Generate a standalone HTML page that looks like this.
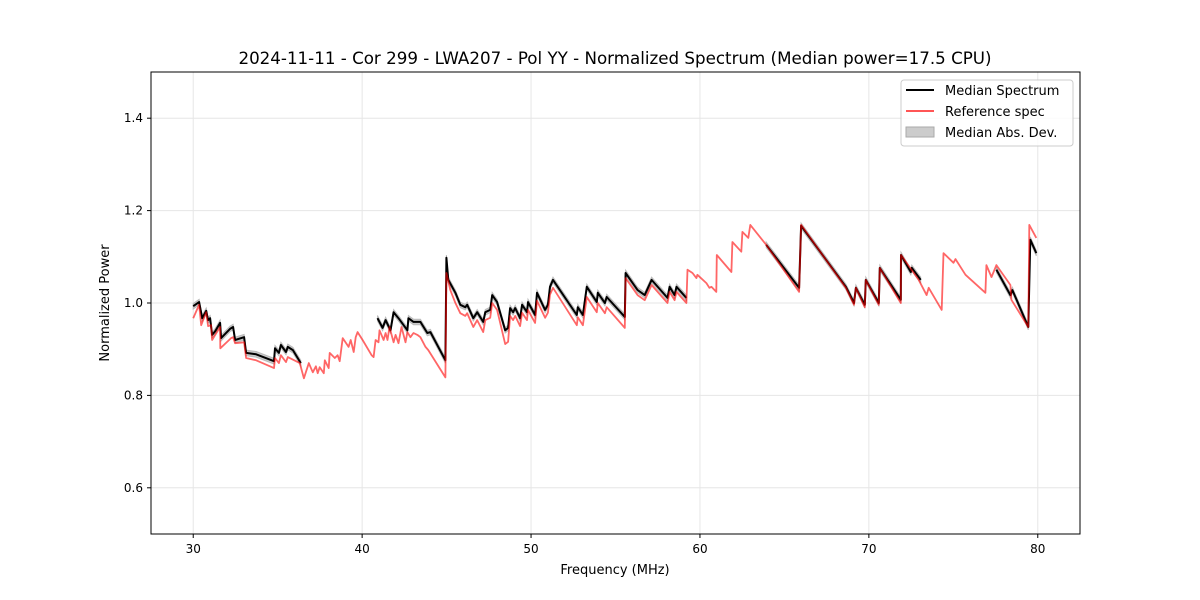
<!DOCTYPE html>
<html><head><meta charset="utf-8"><style>
body{margin:0;background:#fff}
svg{display:block;font-family:"DejaVu Sans","Liberation Sans",sans-serif}
</style></head><body>
<svg id="chart" width="1200" height="600" viewBox="0 0 1200 600" xmlns="http://www.w3.org/2000/svg">
<rect width="1200" height="600" fill="#fff"/>
<text x="615" y="64" font-size="16.7" text-anchor="middle">2024-11-11 - Cor 299 - LWA207 - Pol YY - Normalized Spectrum (Median power=17.5 CPU)</text>
<g id="grid"></g>
<g id="series"></g>
<rect x="151" y="72" width="929" height="462" fill="none" stroke="#000" stroke-width="1"/>
<g id="ticks"></g>
<text x="615" y="574" font-size="13" text-anchor="middle">Frequency (MHz)</text>
<text x="109" y="303" font-size="13" text-anchor="middle" transform="rotate(-90 109 303)">Normalized Power</text>
<g>
<rect x="901" y="80" width="172" height="66" rx="3" fill="#fff" fill-opacity="0.8" stroke="#ccc"/>
<line x1="906" y1="90" x2="934" y2="90" stroke="#000" stroke-width="2"/>
<text x="945" y="95" font-size="13">Median Spectrum</text>
<line x1="906" y1="111" x2="934" y2="111" stroke="#ff5555" stroke-width="2"/>
<text x="945" y="116" font-size="13">Reference spec</text>
<rect x="906" y="127" width="28" height="10" fill="#ccc" stroke="#aaa"/>
<text x="945" y="137" font-size="13">Median Abs. Dev.</text>
</g>
</svg>
<script>
const xTicks=[30,40,50,60,70,80];
const yTicks=[0.6,0.8,1.0,1.2,1.4];
const xTickLabels=["30","40","50","60","70","80"];
const yTickLabels=["0.6","0.8","1.0","1.2","1.4"];
const medianSegments=[
[[30.00,0.993],[30.35,1.002],[30.53,0.967],[30.77,0.983],[30.88,0.963],[31.00,0.967],[31.12,0.931],[31.30,0.939],[31.59,0.957],[31.65,0.924],[32.18,0.944],[32.36,0.948],[32.48,0.920],[33.01,0.926],[33.13,0.892],[33.72,0.889],[34.78,0.874],[34.84,0.902],[35.07,0.892],[35.19,0.909],[35.49,0.894],[35.60,0.905],[35.90,0.898],[36.37,0.870]],
[[40.91,0.967],[41.21,0.946],[41.39,0.963],[41.68,0.941],[41.86,0.980],[42.15,0.967],[42.68,0.941],[42.74,0.967],[43.04,0.959],[43.45,0.959],[43.86,0.935],[44.04,0.937],[44.93,0.876],[44.99,1.098],[45.10,1.050],[45.52,1.022],[45.81,0.996],[46.11,0.991],[46.22,0.996],[46.58,0.967],[46.81,0.980],[47.17,0.959],[47.29,0.980],[47.58,0.985],[47.70,1.017],[47.99,1.002],[48.47,0.941],[48.64,0.946],[48.76,0.989],[48.94,0.980],[49.06,0.989],[49.35,0.967],[49.47,0.996],[49.76,0.980],[49.82,1.002],[50.24,0.974],[50.35,1.022],[50.83,0.985],[51.00,0.996],[51.12,1.035],[51.30,1.050],[52.71,0.974],[52.77,0.991],[53.07,0.974],[53.30,1.035],[53.89,1.002],[53.95,1.022],[54.37,1.000],[54.48,1.013],[55.55,0.970],[55.60,1.065],[56.31,1.028],[56.73,1.017],[57.14,1.050],[58.08,1.011],[58.20,1.035],[58.50,1.017],[58.61,1.035],[59.20,1.011]],
[[63.92,1.126],[65.87,1.033],[65.99,1.167],[68.64,1.035],[69.12,1.000],[69.23,1.033],[69.76,0.996],[69.82,1.050],[70.59,1.000],[70.65,1.076],[71.89,1.007],[71.90,1.104],[72.48,1.067],[72.54,1.076],[73.07,1.050]],
[[77.55,1.072],[78.38,1.017],[78.50,1.028],[79.44,0.948],[79.56,1.137],[79.91,1.108]]
];
const referenceSeries=[[30.00,0.967],[30.35,0.996],[30.47,0.952],[30.77,0.980],[30.88,0.950],[31.06,0.952],[31.12,0.920],[31.30,0.931],[31.59,0.948],[31.60,0.902],[32.24,0.924],[32.36,0.926],[32.48,0.913],[33.01,0.915],[33.13,0.881],[33.72,0.876],[34.78,0.859],[34.84,0.881],[35.07,0.870],[35.19,0.887],[35.49,0.872],[35.60,0.883],[36.31,0.870],[36.55,0.837],[36.84,0.870],[37.08,0.850],[37.26,0.863],[37.37,0.848],[37.49,0.861],[37.73,0.848],[37.79,0.876],[38.02,0.859],[38.08,0.892],[38.38,0.881],[38.55,0.887],[38.67,0.874],[38.85,0.924],[39.20,0.905],[39.32,0.920],[39.50,0.894],[39.62,0.926],[39.73,0.937],[40.03,0.920],[40.56,0.887],[40.68,0.883],[40.80,0.920],[40.97,0.915],[41.03,0.941],[41.27,0.920],[41.39,0.935],[41.50,0.920],[41.62,0.948],[41.86,0.915],[41.98,0.931],[42.15,0.913],[42.33,0.948],[42.57,0.915],[42.68,0.937],[42.86,0.926],[43.04,0.935],[43.27,0.931],[43.45,0.926],[43.75,0.905],[43.92,0.898],[44.93,0.839],[44.99,1.065],[45.22,1.028],[45.52,1.000],[45.81,0.978],[46.11,0.972],[46.22,0.978],[46.58,0.948],[46.81,0.963],[47.17,0.937],[47.29,0.963],[47.58,0.968],[47.70,1.000],[47.99,0.985],[48.47,0.911],[48.64,0.916],[48.76,0.972],[48.94,0.963],[49.06,0.972],[49.35,0.950],[49.47,0.979],[49.76,0.963],[49.82,0.985],[50.24,0.957],[50.35,1.005],[50.83,0.968],[51.00,0.979],[51.12,1.018],[51.30,1.033],[52.71,0.952],[52.77,0.969],[53.07,0.952],[53.30,1.013],[53.89,0.980],[53.95,1.000],[54.37,0.978],[54.48,0.991],[55.55,0.946],[55.60,1.054],[56.31,1.017],[56.73,1.006],[57.14,1.039],[58.08,1.000],[58.20,1.024],[58.50,1.006],[58.61,1.024],[59.20,1.000],[59.26,1.072],[59.56,1.065],[59.79,1.054],[59.85,1.061],[60.38,1.043],[60.56,1.033],[60.68,1.035],[60.97,1.024],[61.00,1.104],[61.86,1.067],[61.92,1.132],[62.45,1.111],[62.51,1.154],[62.86,1.141],[62.98,1.169],[63.92,1.126],[65.87,1.024],[65.99,1.169],[68.64,1.033],[69.12,0.996],[69.23,1.033],[69.76,0.991],[69.82,1.050],[70.59,0.996],[70.65,1.076],[71.89,1.000],[71.90,1.104],[72.95,1.050],[73.42,1.017],[73.54,1.033],[74.31,0.985],[74.42,1.108],[75.01,1.087],[75.13,1.095],[75.72,1.061],[76.90,1.022],[76.96,1.082],[77.26,1.056],[77.55,1.082],[78.38,1.039],[78.44,1.007],[79.44,0.948],[79.50,1.169],[79.91,1.141]];
const madWidth=0.006;

const NS='http://www.w3.org/2000/svg';
const X0=151,X1=1080,Y0=534,Y1=72,XMIN=27.5,XMAX=82.5,YMIN=0.5,YMAX=1.5;
function sx(f){return X0+(f-XMIN)/(XMAX-XMIN)*(X1-X0);}
function sy(v){return Y0-(v-YMIN)/(YMAX-YMIN)*(Y0-Y1);}
function mk(tag,attrs,parent){const e=document.createElementNS(NS,tag);for(const k in attrs)e.setAttribute(k,attrs[k]);parent.appendChild(e);return e;}
const grid=document.getElementById('grid'),ticks=document.getElementById('ticks'),series=document.getElementById('series');
xTicks.forEach((t,i)=>{
 const g=mk('line',{x1:sx(t),x2:sx(t),y1:Y1,y2:Y0,stroke:'#e6e6e6','stroke-width':1},grid);
 
 
 const tk=mk('line',{x1:sx(t),x2:sx(t),y1:Y0,y2:Y0+4,stroke:'#000'},ticks);
 
 
 const tx=mk('text',{x:sx(t),y:Y0+19,'font-size':12,'text-anchor':'middle'},ticks);
 tx.textContent=xTickLabels[i];
 
 
});
yTicks.forEach((t,i)=>{
 const g=mk('line',{x1:X0,x2:X1,y1:sy(t),y2:sy(t),stroke:'#e6e6e6','stroke-width':1},grid);
 
 
 const tk=mk('line',{x1:X0-4,x2:X0,y1:sy(t),y2:sy(t),stroke:'#000'},ticks);
 
 
 const tx=mk('text',{x:X0-8,y:sy(t)+4,'font-size':12,'text-anchor':'end'},ticks);
 tx.textContent=yTickLabels[i];
 
 
});
function pts(arr,off){return arr.map(p=>sx(p[0]).toFixed(1)+','+sy(p[1]+off).toFixed(1)).join(' ');}
medianSegments.forEach(seg=>{
 const band=mk('polygon',{points:pts(seg,madWidth)+' '+pts(seg.slice().reverse(),-madWidth),fill:'#bbb','fill-opacity':0.8,stroke:'#bbb','stroke-width':1},series);
 
 
});
medianSegments.forEach(seg=>{
 const l=mk('polyline',{points:pts(seg,0),fill:'none',stroke:'#000','stroke-width':2,'stroke-linejoin':'round'},series);
 
 
});
const r=mk('polyline',{points:pts(referenceSeries,0),fill:'none',stroke:'#ff0000','stroke-opacity':0.6,'stroke-width':1.8,'stroke-linejoin':'round'},series);


</script>
</body></html>
